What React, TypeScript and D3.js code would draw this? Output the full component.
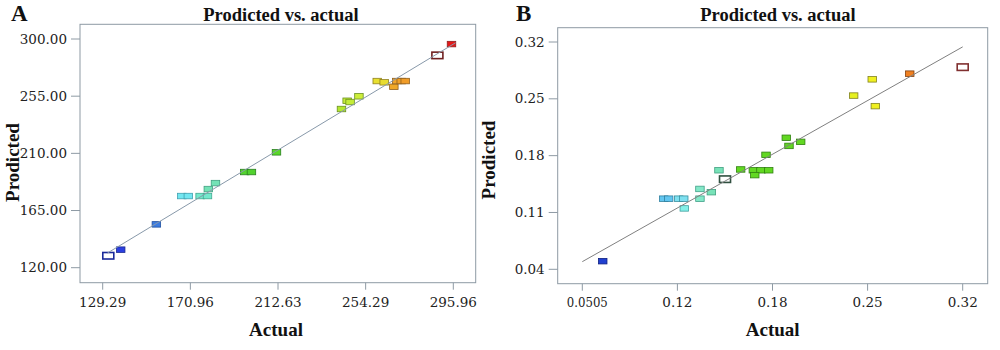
import React from "react";
import * as d3 from "d3";

// ---------- Panel A data ----------
const actualA = [131.95, 137.85, 154.8, 166.9, 170.0, 175.6, 179.1, 179.5, 182.9, 196.8, 200.0, 211.9, 242.8, 245.5, 246.9, 251.1, 259.8, 263.1, 267.7, 269.1, 271.2, 273.1, 288.4, 295.1];
const predictedA = [129.4, 134.2, 154.1, 176.4, 176.4, 176.4, 176.4, 181.9, 186.6, 195.3, 195.3, 210.8, 244.9, 251.4, 250.4, 254.9, 266.9, 265.9, 262.4, 266.9, 266.9, 266.9, 287.1, 296.0];
const fillA = ["none", "#2b3fe0", "#3d7ce0", "#72e6f0", "#72e6f0", "#74e8cc", "#74e8cc", "#74e2b6", "#74e2b6", "#52d22e", "#52d22e", "#5ad828", "#b4e830", "#c4ec38", "#c4ec38", "#cdee3a", "#e8e030", "#e8dc30", "#f0a828", "#f0a428", "#f0a028", "#f09c28", "none", "#e41818"];
const strokeA = ["#1a2a9a", "#1a2a90", "#2050a0", "#40a0b0", "#40a0b0", "#40a890", "#40a890", "#40a080", "#40a080", "#2a8020", "#2a8020", "#2a8020", "#6a9020", "#6a9020", "#6a9020", "#6a9020", "#908020", "#908020", "#906020", "#906020", "#906020", "#906020", "#702020", "#902020"];
const xTicksA = [129.29, 170.96, 212.63, 254.29, 295.96];
const xTickLabelsA = ["129.29", "170.96", "212.63", "254.29", "295.96"];
const yTicksA = [120, 165, 210, 255, 300];
const yTickLabelsA = ["120.00", "165.00", "210.00", "255.00", "300.00"];
const fitLineA = [[131.5, 131.5], [297, 297]];

// ---------- Panel B data ----------
const actualB = [0.0645, 0.1078, 0.1113, 0.1184, 0.1220, 0.1224, 0.1335, 0.1335, 0.1416, 0.1470, 0.1513, 0.1624, 0.1714, 0.1768, 0.1823, 0.1724, 0.1804, 0.1948, 0.1967, 0.2050, 0.2426, 0.2558, 0.2580, 0.2824, 0.3200];
const predictedB = [0.050, 0.127, 0.127, 0.127, 0.127, 0.115, 0.127, 0.139, 0.135, 0.162, 0.151, 0.163, 0.162, 0.162, 0.162, 0.156, 0.181, 0.202, 0.192, 0.197, 0.254, 0.274, 0.241, 0.281, 0.289];
const fillB = ["#2040d0", "#62c6f0", "#62c6f0", "#7ee0f0", "#7ee0f0", "#84f0e8", "#84e8c8", "#84e8c8", "#78e2b8", "#78e2b8", "none", "#62d822", "#62d822", "#62d822", "#62d822", "#62d822", "#62d822", "#62d822", "#62d822", "#62d822", "#e6f020", "#f0f020", "#f0f020", "#f08020", "none"];
const strokeB = ["#102080", "#3080a0", "#3080a0", "#3890a0", "#3890a0", "#40a0a0", "#40a088", "#40a088", "#40a080", "#40a080", "#305040", "#308010", "#308010", "#308010", "#308010", "#308010", "#308010", "#308010", "#308010", "#308010", "#808020", "#808020", "#808020", "#804010", "#803030"];
const xTicksB = [0.05, 0.1175, 0.185, 0.2525, 0.32];
const xTickLabelsB = ["0.0505", "0.12", "0.18", "0.25", "0.32"];
const yTicksB = [0.04, 0.11, 0.18, 0.25, 0.32];
const yTickLabelsB = ["0.04", "0.11", "0.18", "0.25", "0.32"];
const fitLineB = [[0.05, 0.0494], [0.32, 0.314]];

const tickFont = "'DejaVu Serif', serif";
const titleFont = "'Liberation Serif', 'Times New Roman', serif";
const frameColor = "#8e9aa4";

type PanelProps = {
  letter: string;
  letterX: number;
  frame: [number, number, number, number];
  xs: d3.ScaleLinear<number, number>;
  ys: d3.ScaleLinear<number, number>;
  xTicks: number[];
  xLabels: string[];
  yTicks: number[];
  yLabels: string[];
  actual: number[];
  predicted: number[];
  fills: string[];
  strokes: string[];
  line: number[][];
  lineColor: string;
  titleX: number;
  actualX: number;
  ylabelX: number;
  ylabelY: number;
};

function Panel(p: PanelProps) {
  const [l, t, r, b] = p.frame;
  const lineGen = d3
    .line<number[]>()
    .x((d) => p.xs(d[0]))
    .y((d) => p.ys(d[1]));
  return (
    <g>
      <text x={p.letterX} y={21} fontFamily={titleFont} fontWeight="bold" fontSize={23} fill="#111">
        {p.letter}
      </text>
      <text x={p.titleX} y={21} textAnchor="middle" fontFamily={titleFont} fontWeight="bold" fontSize={18.5} fill="#111">
        Prodicted vs. actual
      </text>
      <rect x={l} y={t} width={r - l} height={b - t} fill="white" stroke={frameColor} strokeWidth={1} />
      {p.yTicks.map((v, i) => (
        <g key={"y" + i}>
          <line x1={l - 9} x2={l} y1={p.ys(v)} y2={p.ys(v)} stroke={frameColor} />
          <text x={l - 13} y={p.ys(v) + 4.5} textAnchor="end" fontFamily={tickFont} fontSize={13.5} fill="#222">
            {p.yLabels[i]}
          </text>
        </g>
      ))}
      {p.xTicks.map((v, i) => {
        const lab = p.xLabels[i];
        const squeezed = lab.length === 6 && lab.startsWith("0.");
        return (
          <g key={"x" + i}>
            <line x1={p.xs(v)} x2={p.xs(v)} y1={b} y2={b + 7} stroke={frameColor} />
            {squeezed ? (
              <text
                x={p.xs(v) - 15.5}
                y={306.5}
                textAnchor="start"
                textLength={41}
                lengthAdjust="spacingAndGlyphs"
                fontFamily={tickFont}
                fontSize={13.5}
                fill="#222"
              >
                {lab}
              </text>
            ) : (
              <text x={p.xs(v)} y={306.5} textAnchor="middle" fontFamily={tickFont} fontSize={13.5} fill="#222">
                {lab}
              </text>
            )}
          </g>
        );
      })}
      {p.actual.map((v, i) => {
        const hollow = p.fills[i] === "none";
        const w = hollow ? 11 : 8.5;
        const h = hollow ? 6.5 : 5.5;
        return (
          <rect
            key={"p" + i}
            x={p.xs(v) - w / 2}
            y={p.ys(p.predicted[i]) - h / 2}
            width={w}
            height={h}
            fill={hollow ? "white" : p.fills[i]}
            stroke={p.strokes[i]}
            strokeWidth={hollow ? 1.6 : 0.8}
          />
        );
      })}
      <path d={lineGen(p.line) || ""} fill="none" stroke={p.lineColor} strokeWidth={1} />
      <text x={p.actualX} y={335.5} textAnchor="middle" fontFamily={titleFont} fontWeight="bold" fontSize={19} fill="#111">
        Actual
      </text>
      <text
        transform={`translate(${p.ylabelX},${p.ylabelY}) rotate(-90)`}
        textAnchor="middle"
        fontFamily={titleFont}
        fontWeight="bold"
        fontSize={19}
        fill="#111"
      >
        Prodicted
      </text>
    </g>
  );
}

export default function App() {
  const xsA = d3.scaleLinear().domain([129.29, 295.96]).range([102.7, 453.3]);
  const ysA = d3.scaleLinear().domain([120, 300]).range([267.7, 39]);
  const xsB = d3.scaleLinear().domain([0.05, 0.32]).range([582.3, 962.7]);
  const ysB = d3.scaleLinear().domain([0.04, 0.32]).range([269.3, 42]);
  return (
    <svg width={1000} height={350} style={{ position: "absolute", left: 0, top: 0, background: "white" }}>
      <rect x={0} y={0} width={1000} height={350} fill="white" />
      <Panel
        letter="A"
        letterX={11}
        frame={[80, 24.3, 475.7, 282.7]}
        xs={xsA}
        ys={ysA}
        xTicks={xTicksA}
        xLabels={xTickLabelsA}
        yTicks={yTicksA}
        yLabels={yTickLabelsA}
        actual={actualA}
        predicted={predictedA}
        fills={fillA}
        strokes={strokeA}
        line={fitLineA}
        lineColor="#8899aa"
        titleX={281}
        actualX={276}
        ylabelX={19}
        ylabelY={162.5}
      />
      <Panel
        letter="B"
        letterX={516}
        frame={[557.7, 27.7, 987.7, 283.7]}
        xs={xsB}
        ys={ysB}
        xTicks={xTicksB}
        xLabels={xTickLabelsB}
        yTicks={yTicksB}
        yLabels={yTickLabelsB}
        actual={actualB}
        predicted={predictedB}
        fills={fillB}
        strokes={strokeB}
        line={fitLineB}
        lineColor="#808080"
        titleX={778}
        actualX={772.7}
        ylabelX={494.5}
        ylabelY={160}
      />
    </svg>
  );
}
